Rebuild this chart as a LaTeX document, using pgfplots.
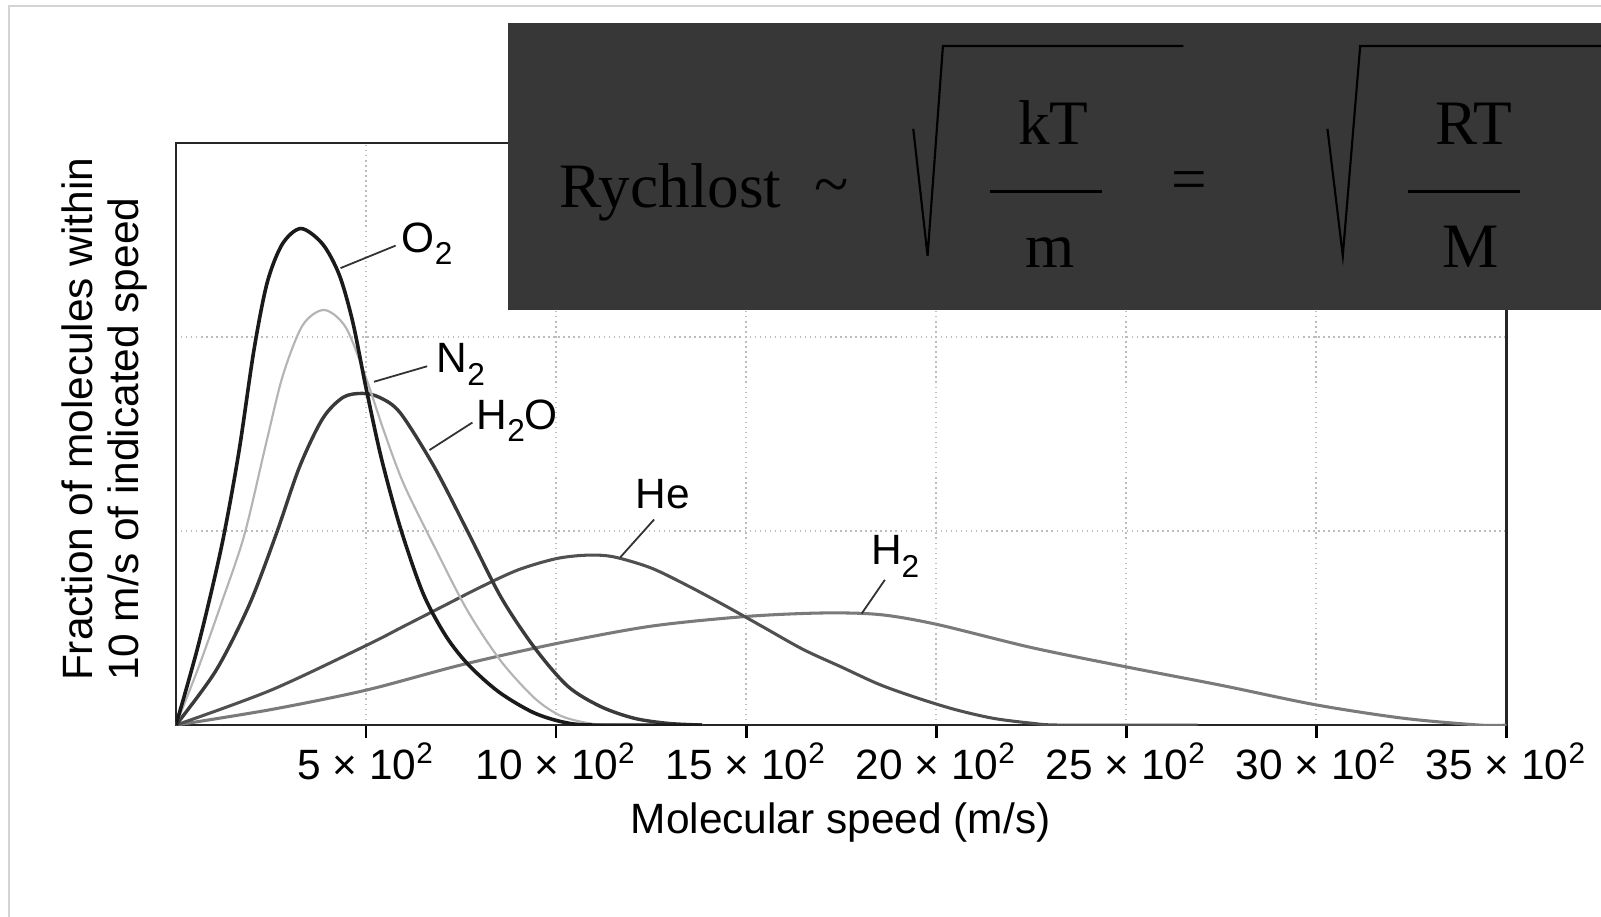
\documentclass[border=0pt]{standalone}
\usepackage{pgfplots}
\pgfplotsset{compat=1.18}
\usepackage{fontspec}
\setmainfont{Liberation Sans}
\newfontfamily\timesfont{Liberation Serif}

\definecolor{boxgray}{HTML}{373737}
\definecolor{framegray}{HTML}{D4D4D4}
\definecolor{gridgray}{HTML}{BDBDBD}
\definecolor{ctwo}{HTML}{1A1A1A}
\definecolor{cntwo}{HTML}{B4B4B4}
\definecolor{cwater}{HTML}{3A3A3A}
\definecolor{che}{HTML}{505050}
\definecolor{chtwo}{HTML}{7A7A7A}

\newcommand{\labfont}{\fontsize{11.8}{12.8}\selectfont}
\newcommand{\eqfont}{\timesfont\fontsize{17.6}{20}\selectfont}
\newcommand{\sub}[1]{\raisebox{-3.4pt}{\fontsize{8.8}{9}\selectfont #1}}

\begin{document}
\begin{tikzpicture}[x=1cm,y=1cm]
\draw[framegray, line width=0.5pt] (0.09,0) -- (0.09,9.11) -- (16.01,9.11);

\begin{axis}[
    at={(1.72cm,2.08cm)}, anchor=south west,
    scale only axis,
    width=13.01cm, height=5.69cm,
    xmin=0, xmax=3500,
    ymin=0, ymax=3,
    xtick={500,1000,1500,2000,2500,3000,3500},
    xticklabels={5 × 10\textsuperscript{2}, 10 × 10\textsuperscript{2},
        15 × 10\textsuperscript{2}, 20 × 10\textsuperscript{2},
        25 × 10\textsuperscript{2}, 30 × 10\textsuperscript{2},
        35 × 10\textsuperscript{2}},
    ytick={1,2},
    yticklabels={},
    xtick pos=bottom,
    tick align=outside,
    major tick length=0.13cm,
    ytick style={draw=none},
    xtick style={draw=black, line width=0.8pt},
    xticklabel style={font=\labfont, yshift=0.08cm},
    grid=major,
    grid style={gridgray, densely dotted, line width=0.5pt},
    axis line style={black!85, line width=0.7pt},
]

% H2
\addplot[chtwo, line width=0.85pt, smooth] coordinates {
  (0,0) (250,0.08) (500,0.18) (750,0.31) (1000,0.42) (1250,0.51)
  (1500,0.56) (1700,0.578) (1850,0.57) (2000,0.52) (2250,0.40)
  (2500,0.30) (2750,0.205) (3000,0.104) (3230,0.035) (3430,0) (3500,0)
};
% He
\addplot[che, line width=0.85pt, smooth] coordinates {
  (0,0) (250,0.18) (500,0.41) (600,0.51) (700,0.61) (800,0.71)
  (900,0.80) (1000,0.858) (1080,0.876) (1150,0.868) (1250,0.81)
  (1350,0.715) (1450,0.61) (1550,0.50) (1650,0.39) (1750,0.30)
  (1850,0.21) (1950,0.14) (2050,0.08) (2150,0.035) (2250,0.01)
  (2330,0) (2688,0)
};
% H2O
\addplot[cwater, line width=0.95pt, smooth] coordinates {
  (0,0) (105,0.28) (193,0.62) (263,0.98) (325,1.33) (386,1.58)
  (440,1.69) (490,1.71) (535,1.69) (590,1.61) (680,1.33) (767,1.00)
  (855,0.66) (943,0.40) (1031,0.20) (1118,0.095) (1206,0.035)
  (1294,0.009) (1384,0)
};
% N2
\addplot[cntwo, line width=0.6pt, smooth] coordinates {
  (0,0) (60,0.30) (120,0.63) (180,0.98) (237,1.45) (281,1.80)
  (333,2.06) (390,2.14) (447,2.05) (500,1.79) (550,1.50) (600,1.24)
  (680,0.92) (767,0.59) (855,0.33) (943,0.14) (1010,0.05)
  (1080,0.012) (1150,0) (1384,0)
};
% O2
\addplot[ctwo, line width=1pt, smooth] coordinates {
  (0,0) (60,0.42) (120,0.92) (165,1.40) (205,1.93) (240,2.28)
  (280,2.48) (329,2.56) (386,2.48) (430,2.32) (465,2.08) (500,1.74)
  (540,1.38) (590,1.02) (650,0.68) (710,0.46) (770,0.31) (850,0.17)
  (940,0.065) (1020,0.015) (1100,0) (1384,0)
};

% labels of the curves
\draw[black!80, line width=0.5pt] (axis cs:433,2.356) -- (axis cs:578,2.472);
\node[anchor=west, inner sep=1pt, font=\labfont] at (axis cs:583,2.48) {O\sub{2}};
\draw[black!80, line width=0.5pt] (axis cs:521,1.77) -- (axis cs:661,1.85);
\node[anchor=west, inner sep=1pt, font=\labfont] at (axis cs:675,1.86) {N\sub{2}};
\draw[black!80, line width=0.5pt] (axis cs:667,1.418) -- (axis cs:780,1.56);
\node[anchor=west, inner sep=1pt, font=\labfont] at (axis cs:780,1.57) {H\sub{2}O};
\draw[black!80, line width=0.5pt] (axis cs:1169,0.865) -- (axis cs:1258,1.06);
\node[font=\labfont] at (axis cs:1280,1.19) {He};
\draw[black!80, line width=0.5pt] (axis cs:1804,0.575) -- (axis cs:1865,0.749);
\node[font=\labfont] at (axis cs:1892,0.87) {H\sub{2}};
\end{axis}

% axis titles
\node[font=\labfont, anchor=base] at (8.22,1.02) {Molecular speed (m/s)};
\node[font=\labfont, rotate=90, align=left] at (1.025,5.07)
  {Fraction of molecules within\\10 m/s of indicated speed};

% formula box
\fill[boxgray] (4.97,8.95) rectangle (15.68,6.14);
\node[font=\eqfont, anchor=base west, inner sep=0pt] at (5.46,7.14) {Rychlost};
\node[font=\eqfont, inner sep=0pt] at (8.135,7.29) {\textasciitilde};
\draw[black, line width=0.6pt] (8.93,7.91) -- (9.07,6.67) -- (9.22,8.72) -- (11.57,8.72);
\draw[black, line width=0.8pt] (9.68,7.30) -- (10.78,7.30);
\node[font=\eqfont, anchor=base, inner sep=0pt] at (10.30,7.76) {kT};
\node[font=\eqfont, anchor=base, inner sep=0pt] at (10.27,6.55) {m};
\node[font=\eqfont, inner sep=0pt] at (11.625,7.35) {=};
\draw[black, line width=0.6pt] (12.98,7.91) -- (13.13,6.67) -- (13.30,8.72) -- (15.68,8.72);
\draw[black, line width=0.8pt] (13.77,7.30) -- (14.86,7.30);
\node[font=\eqfont, anchor=base, inner sep=0pt] at (14.41,7.76) {RT};
\node[font=\eqfont, anchor=base, inner sep=0pt] at (14.38,6.55) {M};

\pgfresetboundingbox
\path[use as bounding box] (0,0.205) rectangle (15.655,9.17);
\end{tikzpicture}
\end{document}
